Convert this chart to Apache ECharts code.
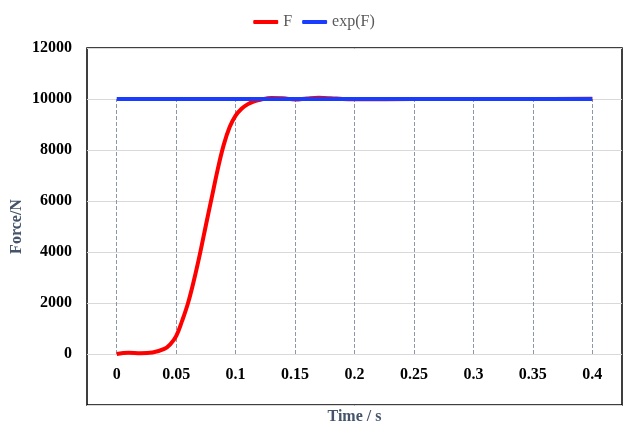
<!DOCTYPE html>
<html>
<head>
<meta charset="utf-8">
<script src="https://cdn.jsdelivr.net/npm/echarts@6/dist/echarts.min.js"></script>
<style>
  html, body { margin: 0; padding: 0; background: #fff; }
  #force { width: 628px; height: 426px; }
</style>
</head>
<body>
<div id="force"></div>
<script>
// tick labels on the time axis
var timeTicks = [0, 0.05, 0.1, 0.15, 0.2, 0.25, 0.3, 0.35, 0.4];
// simulated force F (time in s, force in N)
var fTime = [0, 0.01, 0.02, 0.03, 0.04, 0.045, 0.05, 0.055, 0.06, 0.065, 0.07, 0.075, 0.08, 0.085, 0.09, 0.095, 0.1, 0.105, 0.11, 0.115, 0.12, 0.13, 0.14, 0.15, 0.16, 0.17, 0.18, 0.19, 0.2, 0.25, 0.3, 0.35, 0.4];
var fValues = [0, 50, 30, 60, 200, 380, 700, 1300, 2000, 2900, 3925, 5050, 6150, 7250, 8200, 8900, 9350, 9620, 9790, 9900, 9960, 10040, 10030, 9980, 10020, 10045, 10030, 10000, 9990, 10000, 10000, 10000, 10010];
// expected force exp(F)
var expValues = [10000, 10000, 10000, 10000, 10000, 10000, 10000, 10000, 10000];

var serif = 'Liberation Serif';
var forceChart = echarts.init(document.getElementById('force'));

var fData = fTime.map(function (t, i) { return [t, fValues[i]]; });
var expData = timeTicks.map(function (t, i) { return [t, expValues[i]]; });
var dropLines = timeTicks.map(function (t, i) {
    return [{ coord: [t, 0] }, { coord: [t, expValues[i]] }];
});

var option_force = {
    animation: false,
    legend: {
        top: 9,
        left: 'center',
        icon: 'roundRect',
        itemWidth: 25,
        itemHeight: 4,
        itemGap: 10,
        textStyle: { fontFamily: serif, fontSize: 16, color: '#595959' },
        data: ['F', 'exp(F)']
    },
    grid: {
        left: 87, right: 6, top: 48, bottom: 21,
        outerBoundsMode: 'none',
        containLabel: false,
        show: true,
        borderColor: '#000',
        borderWidth: 1.5
    },
    xAxis: {
        type: 'value',
        min: -0.025,
        max: 0.425,
        // labels sit on the zero line, inside the frame
        offset: -52,
        axisLine: { show: false, onZero: false },
        axisTick: { show: false },
        splitLine: { show: false },
        axisLabel: {
            customValues: timeTicks,
            margin: 14,
            fontFamily: serif,
            fontSize: 16,
            fontWeight: 'bold',
            color: '#000'
        },
        name: 'Time / s',
        nameLocation: 'middle',
        nameMoveOverlap: false,
        nameGap: 56,
        nameTextStyle: { fontFamily: serif, fontSize: 16, fontWeight: 'bold', color: '#44546A' }
    },
    yAxis: {
        type: 'value',
        min: -2000,
        max: 12000,
        interval: 2000,
        axisLine: { show: false },
        axisTick: { show: false },
        splitLine: { lineStyle: { color: '#d9d9d9', width: 1 } },
        axisLabel: {
            margin: 15,
            fontFamily: serif,
            fontSize: 16,
            fontWeight: 'bold',
            color: '#000',
            formatter: function (v) { return v < 0 ? '' : String(v); }
        },
        name: 'Force/N',
        nameLocation: 'middle',
        nameMoveOverlap: false,
        nameGap: 62,
        nameTextStyle: { fontFamily: serif, fontSize: 16, fontWeight: 'bold', color: '#44546A' }
    },
    series: [
        {
            name: 'F',
            type: 'line',
            data: fData,
            smooth: 0.4,
            showSymbol: false,
            color: '#ff0000',
            lineStyle: { width: 4, color: '#ff0000' },
            z: 3
        },
        {
            name: 'exp(F)',
            type: 'line',
            data: expData,
            showSymbol: false,
            color: '#1a3cff',
            lineStyle: { width: 4, color: '#1a3cff' },
            z: 4,
            markLine: {
                silent: true,
                symbol: ['none', 'none'],
                label: { show: false },
                lineStyle: { type: 'dashed', color: '#8c97aa', width: 1 },
                z: 1,
                data: dropLines
            }
        }
    ]
};
forceChart.setOption(option_force);

window.addEventListener('resize', forceChart.resize);
</script>
</body>
</html>
